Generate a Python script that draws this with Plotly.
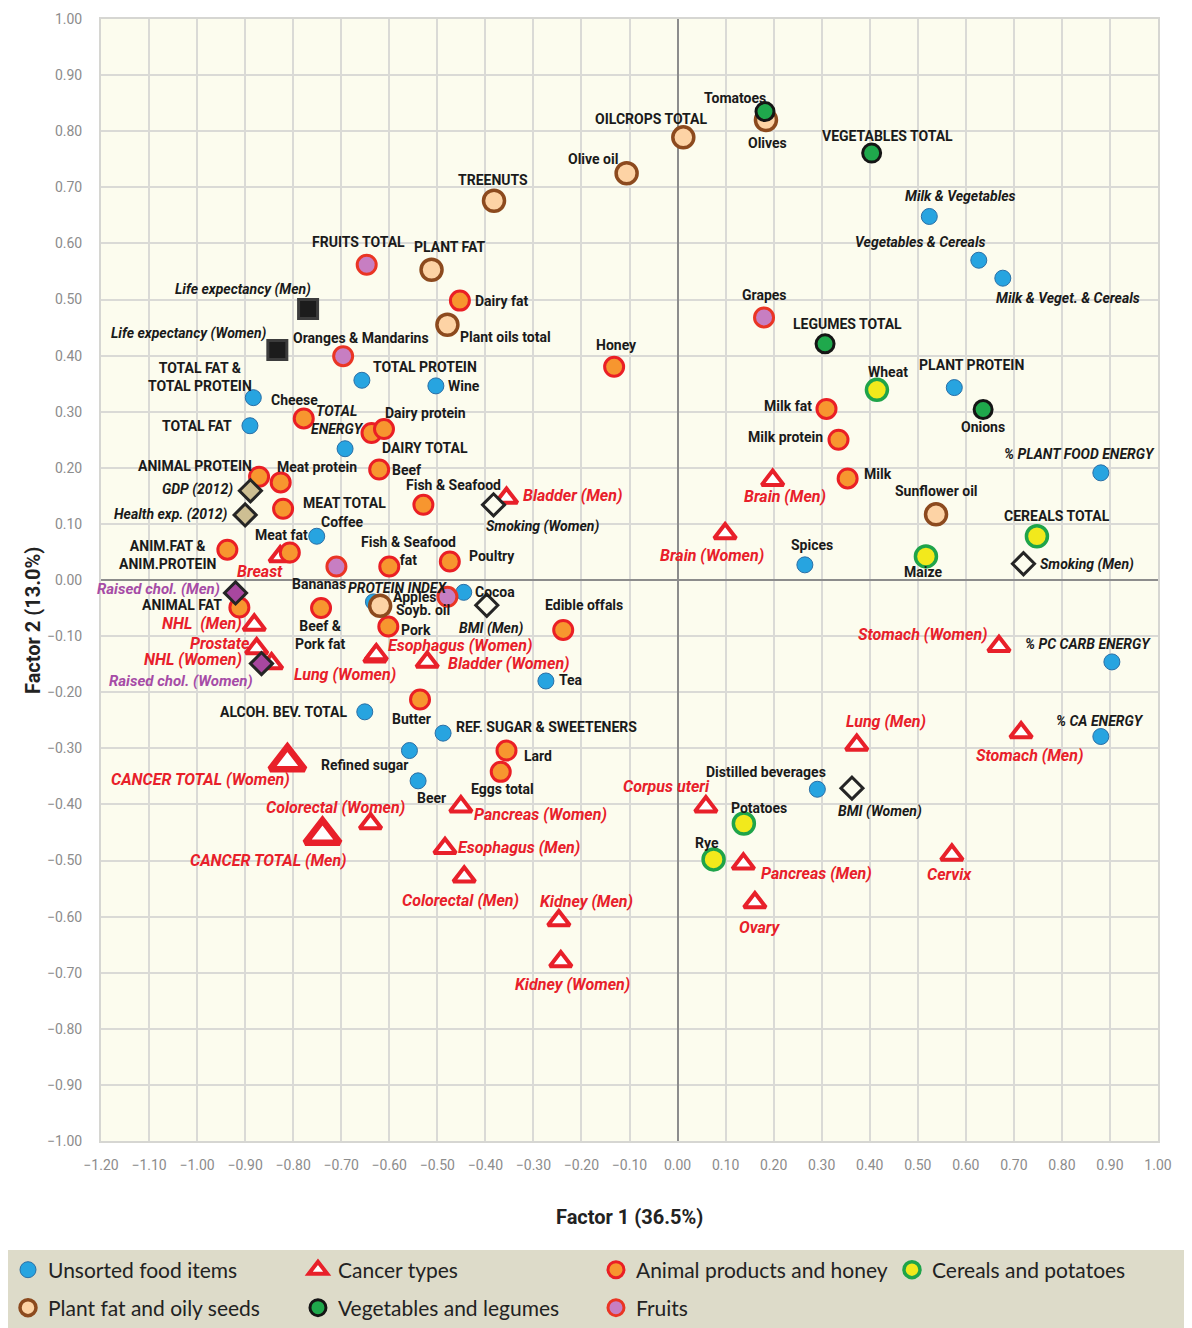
import plotly.graph_objects as go

# factor loadings (Factor 1, Factor 2)

UNSORTED_NAMES = ["TOTAL PROTEIN", "Wine", "TOTAL FAT &<br>TOTAL PROTEIN", "TOTAL FAT", "DAIRY TOTAL",
                  "Coffee", "PROTEIN INDEX", "Cocoa", "Tea", "ALCOH. BEV. TOTAL",
                  "REF. SUGAR & SWEETENERS", "Refined sugar", "Beer", "Milk & Vegetables",
                  "Vegetables & Cereals", "Milk & Veget. & Cereals", "PLANT PROTEIN",
                  "% PLANT FOOD ENERGY", "Spices", "% PC CARB ENERGY", "% CA ENERGY",
                  "Distilled beverages"]
UNSORTED_X = [-0.657, -0.503, -0.883, -0.890, -0.692, -0.751, -0.633, -0.445, -0.274, -0.651,
              -0.488, -0.558, -0.540, 0.524, 0.627, 0.677, 0.576, 0.881, 0.265, 0.904, 0.881, 0.291]
UNSORTED_Y = [0.356, 0.346, 0.325, 0.275, 0.234, 0.078, -0.039, -0.022, -0.180, -0.235,
              -0.273, -0.304, -0.358, 0.648, 0.570, 0.538, 0.343, 0.191, 0.027, -0.146, -0.279, -0.373]

CANCER_NAMES = ["Breast", "NHL  (Men)", "Prostate", "NHL (Women)", "Lung (Women)", "Esophagus (Women)",
                "Bladder (Women)", "Bladder (Men)", "Brain (Men)", "Brain (Women)",
                "Colorectal (Women)", "Colorectal (Men)", "Pancreas (Women)", "Pancreas (Men)",
                "Esophagus (Men)", "Kidney (Men)", "Kidney (Women)", "Corpus uteri", "Ovary",
                "Cervix", "Stomach (Women)", "Stomach (Men)", "Lung (Men)"]
CANCER_X = [-0.827, -0.881, -0.876, -0.845, -0.630, -0.627, -0.521, -0.356, 0.198, 0.099,
            -0.639, -0.444, -0.451, 0.137, -0.484, -0.247, -0.243, 0.059, 0.161, 0.571,
            0.669, 0.715, 0.373]
CANCER_Y = [0.042, -0.080, -0.122, -0.149, -0.137, -0.133, -0.146, 0.146, 0.178, 0.083,
            -0.434, -0.529, -0.404, -0.506, -0.478, -0.607, -0.680, -0.404, -0.575, -0.490,
            -0.118, -0.272, -0.294]

TOTAL_CANCER_NAMES = ["CANCER TOTAL (Women)", "CANCER TOTAL (Men)"]
TOTAL_CANCER_X = [-0.812, -0.739]
TOTAL_CANCER_Y = [-0.324, -0.455]

ANIMAL_NAMES = ["Dairy fat", "Cheese", "TOTAL<br>ENERGY", "Dairy protein", "ANIMAL PROTEIN",
                "Meat protein", "Beef", "MEAT TOTAL", "Fish & Seafood", "Meat fat",
                "ANIM.FAT &<br>ANIM.PROTEIN", "Fish & Seafood<br>fat", "Poultry", "ANIMAL FAT",
                "Beef &<br>Pork fat", "Pork", "Edible offals", "Butter", "Lard", "Eggs total",
                "Honey", "Milk fat", "Milk protein", "Milk"]
ANIMAL_X = [-0.453, -0.778, -0.637, -0.611, -0.871, -0.826, -0.621, -0.821, -0.529, -0.807,
            -0.937, -0.600, -0.474, -0.912, -0.742, -0.602, -0.238, -0.536, -0.356, -0.368,
            -0.132, 0.310, 0.335, 0.354]
ANIMAL_Y = [0.498, 0.288, 0.262, 0.269, 0.184, 0.174, 0.197, 0.127, 0.134, 0.049,
            0.054, 0.024, 0.033, -0.049, -0.050, -0.083, -0.089, -0.213, -0.304, -0.342,
            0.380, 0.305, 0.250, 0.181]

CEREAL_NAMES = ["Wheat", "CEREALS TOTAL", "Maize", "Potatoes", "Rye"]
CEREAL_X = [0.415, 0.748, 0.517, 0.138, 0.075]
CEREAL_Y = [0.339, 0.078, 0.042, -0.434, -0.498]

PLANTFAT_NAMES = ["OILCROPS TOTAL", "Olive oil", "TREENUTS", "PLANT FAT", "Plant oils total",
                  "Soyb. oil", "Sunflower oil", "Olives"]
PLANTFAT_X = [0.012, -0.106, -0.382, -0.512, -0.479, -0.619, 0.538, 0.184]
PLANTFAT_Y = [0.789, 0.725, 0.676, 0.553, 0.455, -0.046, 0.117, 0.820]

VEG_NAMES = ["Tomatoes", "VEGETABLES TOTAL", "LEGUMES TOTAL", "Onions"]
VEG_X = [0.182, 0.404, 0.307, 0.636]
VEG_Y = [0.835, 0.761, 0.421, 0.304]

FRUIT_NAMES = ["FRUITS TOTAL", "Oranges & Mandarins", "Bananas", "Apples", "Grapes"]
FRUIT_X = [-0.647, -0.696, -0.710, -0.479, 0.180]
FRUIT_Y = [0.562, 0.399, 0.024, -0.030, 0.468]

LIFE_NAMES = ["Life expectancy (Men)", "Life expectancy (Women)"]
LIFE_X = [-0.769, -0.833]
LIFE_Y = [0.483, 0.410]

ECON_NAMES = ["GDP (2012)", "Health exp. (2012)"]
ECON_X = [-0.889, -0.900]
ECON_Y = [0.159, 0.116]

CHOL_NAMES = ["Raised chol. (Men)", "Raised chol. (Women)"]
CHOL_X = [-0.920, -0.866]
CHOL_Y = [-0.023, -0.149]

RISK_NAMES = ["Smoking (Women)", "BMI (Men)", "BMI (Women)", "Smoking (Men)"]
RISK_X = [-0.383, -0.397, 0.363, 0.720]
RISK_Y = [0.134, -0.045, -0.371, 0.029]

# label placement: anchor, dx, dy (pixels from marker, y down)
LABEL_POS = {
    "TOTAL PROTEIN": ("l", 9, -13), "Wine": ("l", 10, 0),
    "TOTAL FAT &<br>TOTAL PROTEIN": ("c", -53, -21), "TOTAL FAT": ("r", -16, 0),
    "DAIRY TOTAL": ("l", 35, -1), "Coffee": ("c", 25, -14), "PROTEIN INDEX": ("c", 24, -14),
    "Cocoa": ("l", 9, 0), "Tea": ("l", 11, -1), "ALCOH. BEV. TOTAL": ("r", -16, 0),
    "REF. SUGAR & SWEETENERS": ("l", 11, -6), "Refined sugar": ("c", -44, 14),
    "Beer": ("c", 13, 17), "Milk & Vegetables": ("c", 31, -20),
    "Vegetables & Cereals": ("c", -59, -18), "Milk & Veget. & Cereals": ("c", 65, 20),
    "PLANT PROTEIN": ("c", 17, -23), "% PLANT FOOD ENERGY": ("c", -21, -19),
    "Spices": ("c", 7, -20), "% PC CARB ENERGY": ("c", -24, -18), "% CA ENERGY": ("c", -1, -16),
    "Distilled beverages": ("c", -51, -17),
    "Dairy fat": ("l", 13, 0), "Cheese": ("c", -9, -18), "TOTAL<br>ENERGY": ("c", -34, -13),
    "Dairy protein": ("l", -1, -16), "ANIMAL PROTEIN": ("r", -5, -11),
    "Meat protein": ("l", -6, -15), "Beef": ("l", 11, 1), "MEAT TOTAL": ("l", 18, -6),
    "Fish & Seafood": ("c", 30, -20), "Meat fat": ("c", -8, -18),
    "ANIM.FAT &<br>ANIM.PROTEIN": ("c", -60, 5), "Fish & Seafood<br>fat": ("c", 19, -16),
    "Poultry": ("l", 17, -5), "ANIMAL FAT": ("r", -15, -2), "Beef &<br>Pork fat": ("c", -1, 27),
    "Pork": ("l", 11, 3), "Edible offals": ("c", 21, -25), "Butter": ("c", -9, 20),
    "Lard": ("l", 15, 5), "Eggs total": ("c", 2, 17), "Honey": ("c", 2, -22),
    "Milk fat": ("r", -12, -3), "Milk protein": ("r", -14, -3), "Milk": ("l", 14, -4),
    "Wheat": ("c", 11, -18), "CEREALS TOTAL": ("c", 20, -20), "Maize": ("c", -3, 16),
    "Potatoes": ("c", 15, -15), "Rye": ("c", -7, -16),
    "OILCROPS TOTAL": ("c", -32, -18), "Olive oil": ("c", -34, -14), "TREENUTS": ("c", -1, -21),
    "PLANT FAT": ("c", 18, -23), "Plant oils total": ("l", 11, 12), "Soyb. oil": ("l", 14, 4),
    "Sunflower oil": ("c", 0, -23), "Olives": ("c", 2, 23),
    "Tomatoes": ("c", -30, -14), "VEGETABLES TOTAL": ("c", 16, -17),
    "LEGUMES TOTAL": ("c", 22, -20), "Onions": ("c", 0, 18),
    "FRUITS TOTAL": ("c", -8, -23), "Oranges & Mandarins": ("c", 18, -18),
    "Bananas": ("c", -17, 17), "Apples": ("r", -9, 0), "Grapes": ("c", 0, -22),
    "Breast": ("c", -20, 15), "NHL  (Men)": ("r", -10, -1), "Prostate": ("r", -5, -5),
    "NHL (Women)": ("r", -28, -4), "Lung (Women)": ("c", -30, 18),
    "Esophagus (Women)": ("l", 10, -9), "Bladder (Women)": ("l", 19, 2),
    "Bladder (Men)": ("l", 14, -3), "Brain (Men)": ("c", 12, 16), "Brain (Women)": ("c", -13, 22),
    "CANCER TOTAL (Women)": ("c", -87, 18), "CANCER TOTAL (Men)": ("c", -54, 25),
    "Colorectal (Women)": ("c", -35, -16), "Colorectal (Men)": ("c", -4, 24),
    "Pancreas (Women)": ("l", 11, 8), "Pancreas (Men)": ("l", 16, 10),
    "Esophagus (Men)": ("l", 11, -1), "Kidney (Men)": ("c", 28, -19),
    "Kidney (Women)": ("c", 12, 23), "Corpus uteri": ("c", -39, -20), "Ovary": ("c", 5, 25),
    "Cervix": ("c", -2, 20), "Stomach (Women)": ("r", -9, -12), "Stomach (Men)": ("c", 8, 23),
    "Lung (Men)": ("c", 29, -23),
    "Life expectancy (Men)": ("r", 5, -20), "Life expectancy (Women)": ("r", -8, -16),
    "GDP (2012)": ("r", -15, -1), "Health exp. (2012)": ("r", -15, 0),
    "Raised chol. (Men)": ("r", -14, -4), "Raised chol. (Women)": ("r", -6, 17),
    "Smoking (Women)": ("c", 49, 22), "BMI (Men)": ("c", 5, 23),
    "BMI (Women)": ("c", 28, 23), "Smoking (Men)": ("l", 15, 1),
}

ITALIC_FOOD = {"TOTAL<br>ENERGY", "PROTEIN INDEX", "Milk & Vegetables", "Vegetables & Cereals",
               "Milk & Veget. & Cereals", "% PLANT FOOD ENERGY", "% PC CARB ENERGY", "% CA ENERGY"}

NARROW = "Liberation Sans Narrow, Arial Narrow, Roboto, Liberation Sans, sans-serif"
RED = "#e8202a"

fig = go.Figure()


def add_group(names, xs, ys, legend_name, marker, legend=None):
    fig.add_trace(go.Scatter(
        x=xs, y=ys, mode="markers", name=legend_name, text=names,
        marker=marker, showlegend=legend is not None, legend=legend or "legend",
        hoverinfo="text",
    ))


add_group(UNSORTED_NAMES, UNSORTED_X, UNSORTED_Y, "Unsorted food items",
          dict(symbol="circle", size=16, color="#27a4e0", line=dict(color="#2a6fa6", width=1)),
          legend="legend")
add_group(CANCER_NAMES, CANCER_X, CANCER_Y, "Cancer types",
          dict(symbol="triangle-up", size=19, color="white", line=dict(color=RED, width=4)),
          legend="legend2")
add_group(TOTAL_CANCER_NAMES, TOTAL_CANCER_X, TOTAL_CANCER_Y, "Cancer total",
          dict(symbol="triangle-up", size=30, color="white", line=dict(color=RED, width=6.5)))
add_group(ANIMAL_NAMES, ANIMAL_X, ANIMAL_Y, "Animal products and honey",
          dict(symbol="circle", size=19, color="#f7962f", line=dict(color="#ea1f25", width=3)),
          legend="legend3")
add_group(CEREAL_NAMES, CEREAL_X, CEREAL_Y, "Cereals and potatoes",
          dict(symbol="circle", size=21, color="#f2e91c", line=dict(color="#1fa44a", width=3.5)),
          legend="legend4")
add_group(PLANTFAT_NAMES, PLANTFAT_X, PLANTFAT_Y, "Plant fat and oily seeds",
          dict(symbol="circle", size=21, color="#fdd3a5", line=dict(color="#8c4a1e", width=3.5)),
          legend="legend5")
add_group(VEG_NAMES, VEG_X, VEG_Y, "Vegetables and legumes",
          dict(symbol="circle", size=18, color="#1fa84c", line=dict(color="#151515", width=3)),
          legend="legend6")
add_group(FRUIT_NAMES, FRUIT_X, FRUIT_Y, "Fruits",
          dict(symbol="circle", size=19, color="#c77ec2", line=dict(color="#ea3524", width=3)),
          legend="legend7")
add_group(LIFE_NAMES, LIFE_X, LIFE_Y, "Life expectancy",
          dict(symbol="square", size=19, color="#1c1c1c", line=dict(color="#3c3c3c", width=3)))
add_group(ECON_NAMES, ECON_X, ECON_Y, "Economy",
          dict(symbol="diamond", size=17, color="#cdbf93", line=dict(color="#252525", width=3)))
add_group(CHOL_NAMES, CHOL_X, CHOL_Y, "Cholesterol",
          dict(symbol="diamond", size=17, color="#a8479f", line=dict(color="#252525", width=3)))
add_group(RISK_NAMES, RISK_X, RISK_Y, "Risk factors",
          dict(symbol="diamond", size=17, color="#fcfcee", line=dict(color="#252525", width=3)))


def label_style(name, group):
    if group == "cancer":
        return dict(family=NARROW, size=16, color=RED, weight="bold", style="italic")
    if group == "chol":
        return dict(family=NARROW, size=15, color="#a64ca6", weight="bold", style="italic")
    if group == "other" or name in ITALIC_FOOD:
        return dict(family=NARROW, size=14, color="#1a1a1a", weight="bold", style="italic")
    return dict(family=NARROW, size=14, color="#1a1a1a", weight="bold", style="normal")


groups = [
    (UNSORTED_NAMES, UNSORTED_X, UNSORTED_Y, "food"),
    (CANCER_NAMES, CANCER_X, CANCER_Y, "cancer"),
    (TOTAL_CANCER_NAMES, TOTAL_CANCER_X, TOTAL_CANCER_Y, "cancer"),
    (ANIMAL_NAMES, ANIMAL_X, ANIMAL_Y, "food"),
    (CEREAL_NAMES, CEREAL_X, CEREAL_Y, "food"),
    (PLANTFAT_NAMES, PLANTFAT_X, PLANTFAT_Y, "food"),
    (VEG_NAMES, VEG_X, VEG_Y, "food"),
    (FRUIT_NAMES, FRUIT_X, FRUIT_Y, "food"),
    (LIFE_NAMES, LIFE_X, LIFE_Y, "other"),
    (ECON_NAMES, ECON_X, ECON_Y, "other"),
    (CHOL_NAMES, CHOL_X, CHOL_Y, "chol"),
    (RISK_NAMES, RISK_X, RISK_Y, "other"),
]
anchors = {"l": "left", "r": "right", "c": "center"}
for names, xs, ys, group in groups:
    for name, x, y in zip(names, xs, ys):
        anc, dx, dy = LABEL_POS[name]
        fig.add_annotation(x=x, y=y, text=name, showarrow=False, xanchor=anchors[anc],
                           yanchor="middle", xshift=dx, yshift=-dy, align="center",
                           font=label_style(name, group))

# axis titles
fig.add_annotation(x=0.5, y=-0.0677, xref="paper", yref="paper", text="Factor 1 (36.5%)",
                   showarrow=False, xanchor="center", yanchor="middle",
                   font=dict(family=NARROW, size=20, color="#222", weight="bold"))
fig.add_annotation(x=-0.0643, y=0.4635, xref="paper", yref="paper", text="Factor 2 (13.0%)",
                   showarrow=False, textangle=-90, xanchor="center", yanchor="middle",
                   font=dict(family=NARROW, size=20, color="#222", weight="bold"))

# legend band
fig.add_shape(type="rect", xref="paper", yref="paper", x0=-0.1, x1=1.04, y0=-0.18, y1=-0.0971,
              fillcolor="#dddbc9", line=dict(width=0), layer="below")

axis_common = dict(
    showgrid=True, gridcolor="#dadad6", gridwidth=2,
    zeroline=True, zerolinecolor="#8c8c8c", zerolinewidth=2,
    showline=True, mirror=True, linecolor="#d6d6d2", linewidth=2,
    tickformat=".2f", tickfont=dict(family=NARROW, size=14, color="#8c8c8c"),
    ticks="", fixedrange=True, automargin=False,
)


def legend_at(x, y):
    return dict(
        x=x, y=y, orientation="h", xref="container", yref="container",
        xanchor="left", yanchor="middle", bgcolor="rgba(0,0,0,0)", itemsizing="trace",
        font=dict(family="Lato, Noto Sans, sans-serif", size=21, color="#222"),
    )


# the page adds an 8 px body margin, so the figure is 8 px smaller and margins compensate
fig.update_layout(
    width=1184, height=1320,
    margin=dict(l=93, r=34, t=11, b=187, autoexpand=False),
    paper_bgcolor="white", plot_bgcolor="#fcfcee",
    xaxis=dict(range=[-1.2, 1.0], tickmode="linear", tick0=-1.2, dtick=0.1,
               ticklabelstandoff=10, **axis_common),
    yaxis=dict(range=[-1.0, 1.0], tickmode="linear", tick0=-1.0, dtick=0.1,
               ticklabelstandoff=14, **axis_common),
    legend=legend_at(-0.0076, 0.0439),
    legend2=legend_at(0.2449, 0.0439),
    legend3=legend_at(0.4966, 0.0439),
    legend4=legend_at(0.7466, 0.0439),
    legend5=legend_at(-0.0076, 0.01515),
    legend6=legend_at(0.2449, 0.01515),
    legend7=legend_at(0.4966, 0.01515),
    hovermode="closest",
)

fig.write_html("out.html")
